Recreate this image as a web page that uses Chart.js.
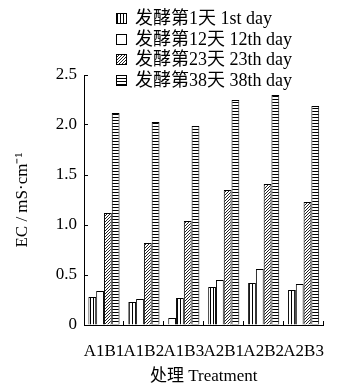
<!DOCTYPE html>
<html>
<head>
<meta charset="utf-8">
<script src="https://cdn.jsdelivr.net/npm/chart.js@4.4.1/dist/chart.umd.min.js"></script>
<style>
  html, body { margin: 0; padding: 0; background: #fff; }
  #wrap { width: 344px; height: 387px; }
</style>
</head>
<body>
<div id="wrap"><canvas id="c" width="344" height="387"></canvas></div>
<script>
// Treatments on the x axis
const treatments = ['A1B1', 'A1B2', 'A1B3', 'A2B1', 'A2B2', 'A2B3'];
// Series names (fermentation day)
const seriesLabels = ['发酵第1天 1st day', '发酵第12天 12th day', '发酵第23天 23th day', '发酵第38天 38th day'];
// EC values (mS/cm), in bar order within each group
const day1 = [0.28, 0.23, 0.07, 0.38, 0.42, 0.35];
const day12 = [0.34, 0.26, 0.27, 0.45, 0.56, 0.41];
const day23 = [1.12, 0.82, 1.04, 1.35, 1.41, 1.23];
const day38 = [2.12, 2.03, 1.99, 2.25, 2.30, 2.19];
// Y axis ticks
const yTicks = [0, 0.5, 1.0, 1.5, 2.0, 2.5];

const FAMILY = "'Liberation Serif', 'Noto Sans CJK SC', serif";
const canvas = document.getElementById('c');
const mainCtx = canvas.getContext('2d');

// Small repeating tiles used as bar fills
function makePattern(w, h, draw) {
  const t = document.createElement('canvas');
  t.width = w; t.height = h;
  const g = t.getContext('2d');
  g.fillStyle = '#fff';
  g.fillRect(0, 0, w, h);
  g.fillStyle = '#000';
  draw(g);
  return mainCtx.createPattern(t, 'repeat');
}
const vStripes = makePattern(3, 1, g => g.fillRect(0, 0, 1, 1));
const plain = '#ffffff';
const hatch = makePattern(3, 3, g => {
  g.fillStyle = '#222';
  g.fillRect(0, 2, 1, 1);
  g.fillRect(1, 1, 1, 1);
  g.fillRect(2, 0, 1, 1);
});
const hStripes = makePattern(1, 3, g => g.fillRect(0, 0, 1, 1));

// In group A1B3 the first two bars carry each other's fill
const day1Fill = treatments.map((t, i) => (i === 2 ? plain : vStripes));
const day12Fill = treatments.map((t, i) => (i === 2 ? vStripes : plain));

function barSet(label, data, fill, legendFill) {
  return {
    label, data,
    backgroundColor: fill,
    legendFill,
    borderColor: '#000',
    borderWidth: 1,
    categoryPercentage: 0.78,
    barPercentage: 1.0
  };
}

// Stacked legend in the top area, one entry per row
const stackedLegend = {
  id: 'stackedLegend',
  afterDraw(chart) {
    const ctx = chart.ctx;
    ctx.save();
    ctx.font = '18px ' + FAMILY;
    ctx.textBaseline = 'middle';
    ctx.textAlign = 'left';
    chart.data.datasets.forEach((ds, i) => {
      const y = Math.round(18 + i * 20.5);
      ctx.fillStyle = ds.legendFill;
      ctx.fillRect(116, y - 5, 11, 11);
      ctx.strokeStyle = '#000';
      ctx.lineWidth = 1;
      ctx.strokeRect(116.5, y - 4.5, 10, 10);
      ctx.fillStyle = '#000';
      ctx.fillText(ds.label, 135, y + 1);
    });
    ctx.restore();
  }
};

new Chart(canvas, {
  type: 'bar',
  data: {
    labels: treatments,
    datasets: [
      barSet(seriesLabels[0], day1, day1Fill, vStripes),
      barSet(seriesLabels[1], day12, day12Fill, plain),
      barSet(seriesLabels[2], day23, hatch, hatch),
      barSet(seriesLabels[3], day38, hStripes, hStripes)
    ]
  },
  options: {
    responsive: false,
    animation: false,
    devicePixelRatio: 1,
    layout: { padding: { top: 75, left: 0, right: 1, bottom: 0 } },
    plugins: {
      legend: { display: false },
      tooltip: { enabled: false }
    },
    scales: {
      x: {
        grid: {
          display: true, drawOnChartArea: false, drawTicks: true,
          tickLength: -4, color: '#000', lineWidth: 1, offset: true
        },
        border: { display: true, color: '#000', width: 1 },
        ticks: {
          color: '#000', font: { family: FAMILY, size: 17 },
          padding: 20, maxRotation: 0, autoSkip: false
        },
        title: {
          display: true, text: '处理 Treatment', color: '#000',
          font: { family: FAMILY, size: 17 },
          padding: { top: 0, bottom: 0 }
        },
        afterFit(scale) { scale.height = 62; }
      },
      y: {
        min: 0, max: 2.5,
        afterBuildTicks(scale) { scale.ticks = yTicks.map(v => ({ value: v })); },
        grid: {
          display: true, drawOnChartArea: false, drawTicks: true,
          tickLength: -4, color: '#000', lineWidth: 1
        },
        border: { display: true, color: '#000', width: 1 },
        ticks: {
          color: '#000', font: { family: FAMILY, size: 17 }, padding: 11,
          callback: v => (v === 0 ? '0' : v.toFixed(1))
        },
        title: {
          display: true, text: 'EC / mS·cm⁻¹', color: '#000',
          font: { family: FAMILY, size: 17 },
          padding: { top: 12, bottom: 0 }
        },
        afterFit(scale) { scale.width = 84; }
      }
    }
  },
  plugins: [stackedLegend]
});
</script>
</body>
</html>
